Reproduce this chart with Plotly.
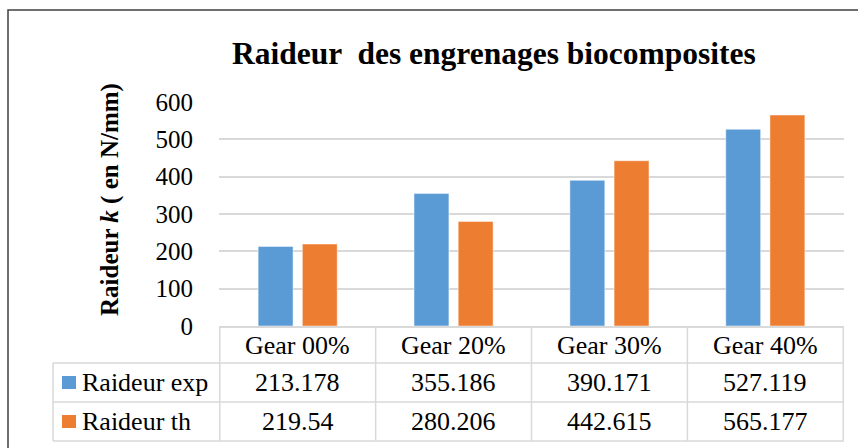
import plotly.graph_objects as go

# ---- data ----
categories = ["Gear 00%", "Gear 20%", "Gear 30%", "Gear 40%"]
raideur_exp = [213.178, 355.186, 390.171, 527.119]
raideur_th = [219.54, 280.206, 442.615, 565.177]
series_names = ["Raideur exp", "Raideur th"]
series_labels = [["213.178", "355.186", "390.171", "527.119"],
                 ["219.54", "280.206", "442.615", "565.177"]]
y_ticks = [0, 100, 200, 300, 400, 500, 600]
title_text = "Raideur  des engrenages biocomposites"
ytitle_text = "<b>Raideur <i>k</i> ( en N/mm)</b>"

BLUE = "#5b9bd5"
ORANGE = "#ed7d31"
GRID = "#d9d9d9"
FONT = "'Liberation Serif', 'Times New Roman', Times, serif"

W, H = 858, 448
L, R, T, B = 219, 14, 102, 122
PW, PH = W - L - R, H - T - B


def px(x):
    return (x - L) / PW


def py(y):
    return (H - B - y) / PH


fig = go.Figure()
fig.add_trace(go.Bar(x=categories, y=raideur_exp, name=series_names[0],
                     marker=dict(color=BLUE, line=dict(color="rgba(255,255,255,0.6)", width=0.8))))
fig.add_trace(go.Bar(x=categories, y=raideur_th, name=series_names[1],
                     marker=dict(color=ORANGE, line=dict(color="rgba(255,255,255,0.6)", width=0.8))))

shapes = []
annotations = []

# outer chart border
shapes.append(dict(type="rect", xref="paper", yref="paper",
                   x0=px(8), x1=px(875), y0=py(10), y1=py(470),
                   line=dict(color="#404040", width=1.5), layer="above"))

# data table lines
line = dict(color=GRID, width=1.5)
for yy in [363, 402, 441]:
    shapes.append(dict(type="line", xref="paper", yref="paper",
                       x0=px(53), x1=px(844), y0=py(yy), y1=py(yy), line=line))
for i in range(len(categories) + 1):
    shapes.append(dict(type="line", xref="x", yref="paper",
                       x0=i - 0.5, x1=i - 0.5, y0=py(326), y1=py(441), line=line))
shapes.append(dict(type="line", xref="paper", yref="paper",
                   x0=px(53), x1=px(53), y0=py(363), y1=py(441), line=line))

# header row labels
for c in categories:
    annotations.append(dict(x=c, xref="x", y=py(345), yref="paper", text=c,
                            showarrow=False, xanchor="center", yanchor="middle",
                            font=dict(family=FONT, size=26, color="black")))

row_centers = [382.5, 421.5]
colors = [BLUE, ORANGE]
for r, (name, labels) in enumerate(zip(series_names, series_labels)):
    yc = row_centers[r]
    shapes.append(dict(type="rect", xref="paper", yref="paper",
                       x0=px(62), x1=px(76), y0=py(yc - 6.5), y1=py(yc + 6.5),
                       fillcolor=colors[r], line=dict(width=0)))
    annotations.append(dict(x=px(80), xref="paper", y=py(yc), yref="paper", text=name,
                            showarrow=False, xanchor="left", yanchor="middle",
                            font=dict(family=FONT, size=26, color="black")))
    for c, lab in zip(categories, labels):
        annotations.append(dict(x=c, xref="x", y=py(yc), yref="paper", text=lab,
                                showarrow=False, xanchor="center", yanchor="middle",
                                font=dict(family=FONT, size=26, color="black")))

# y-axis title
annotations.append(dict(x=px(110), xref="paper", y=py(200), yref="paper",
                        text=ytitle_text, textangle=-90, showarrow=False,
                        xanchor="center", yanchor="middle",
                        font=dict(family=FONT, size=25, color="black")))

# chart title
annotations.append(dict(x=px(494), xref="paper", y=py(53), yref="paper",
                        text="<b>" + title_text + "</b>", showarrow=False,
                        xanchor="center", yanchor="middle",
                        font=dict(family=FONT, size=31.5, color="black")))

fig.update_layout(
    width=W, height=H,
    margin=dict(l=L, r=R, t=T, b=B, pad=0),
    paper_bgcolor="white", plot_bgcolor="white",
    barmode="group", bargap=0.433, bargroupgap=0.21,
    showlegend=False,
    shapes=shapes, annotations=annotations,
    font=dict(family=FONT, color="black"),
    xaxis=dict(showticklabels=False, showgrid=False, zeroline=False,
               showline=True, linecolor=GRID, linewidth=1.5, ticks=""),
    yaxis=dict(range=[0, 600], tickvals=y_ticks, showgrid=True, gridcolor=GRID,
               gridwidth=1.5, zeroline=False, showline=False, ticks="",
               ticklabelstandoff=25,
               tickfont=dict(family=FONT, size=25, color="black")),
)

fig.write_html("out.html", config={"displayModeBar": False},
               post_script="document.body.style.margin='0';document.body.style.overflow='hidden';")
